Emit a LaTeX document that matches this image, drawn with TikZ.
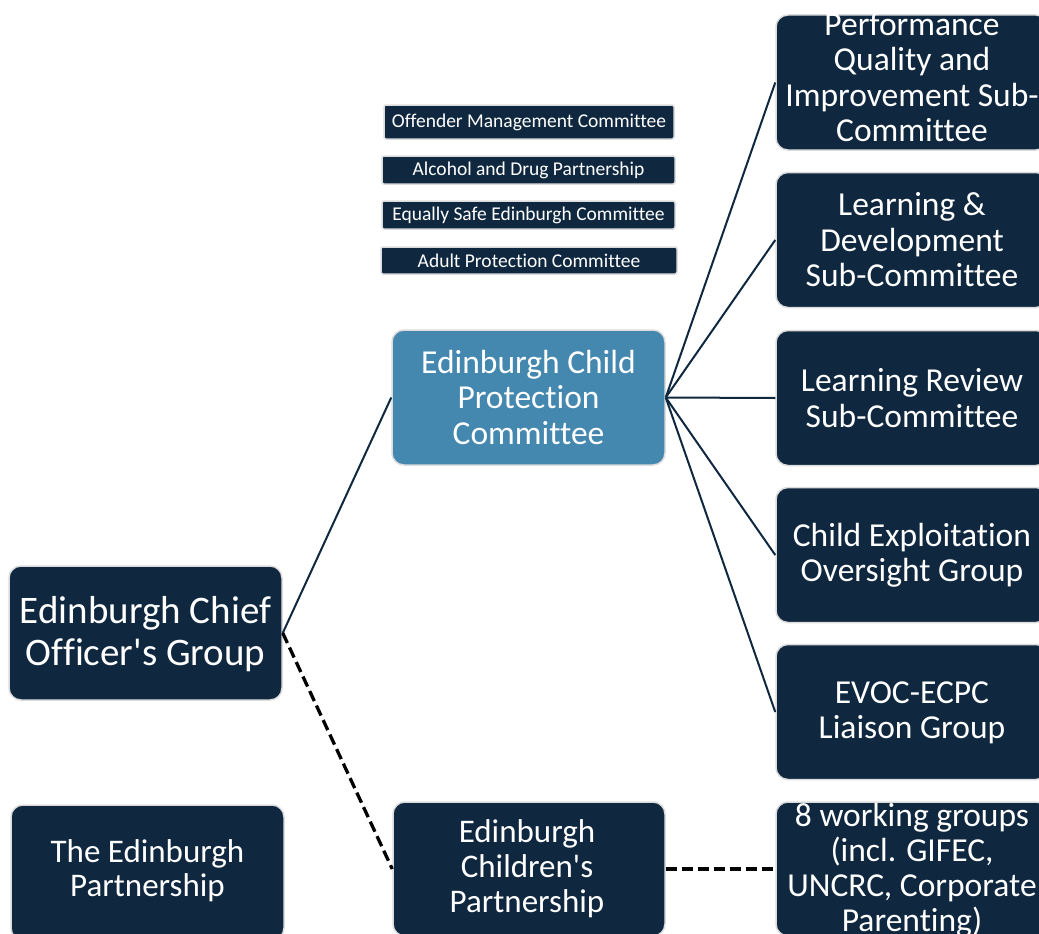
\documentclass[tikz,border=0pt]{standalone}
\usepackage{fontspec}
\setmainfont{Carlito}[Ligatures={TeXOff,CommonOff}]
\definecolor{navy}{HTML}{10283F}
\definecolor{cpc}{HTML}{4487AF}
\definecolor{halo}{HTML}{DCDCDC}
\begin{document}
\begin{tikzpicture}[x=1pt,y=-1pt,
  box/.style={draw=halo, line width=1.5pt, fill=navy, rounded corners=12pt, inner sep=0pt, minimum width=273pt, minimum height=135pt},
  small/.style={draw=halo, line width=1.5pt, fill=navy, rounded corners=2pt, inner sep=0pt, text=white, font=\fontsize{19.5}{22}\selectfont},
  txt/.style={text=white, align=center, inner sep=0pt},
  big/.style={font=\fontsize{39}{42}\selectfont},
  mid/.style={font=\fontsize{33.5}{35.5}\selectfont},
  link/.style={draw=navy, line width=2pt},
  dlink/.style={draw=black, line width=3.3pt, dash pattern=on 11pt off 5pt}]
\useasboundingbox (0,0) rectangle (1039,934);
\fill[white] (0,0) rectangle (1039,934);

% left column
\node[box, minimum height=134pt] (chief) at (145.5,633) {};
\node[txt, big] (chieft) at (145.5,634) {Edinburgh Chief\\Officer's Group};
\node[box] (tep) at (147.5,872.5) {};
\node[txt, font=\fontsize{33}{34}\selectfont] (tept) at (147.5,871) {The Edinburgh\\Partnership};

% middle column
\node[box, fill=cpc] (ecpc) at (528.5,397.5) {};
\node[txt, mid] (ecpct) at (528.5,397) {Edinburgh Child\\Protection\\Committee};
\node[box, minimum width=272pt, minimum height=134pt] (ecp) at (529,869) {};
\node[txt, font=\fontsize{33}{35}\selectfont] (ecpt) at (527,869) {Edinburgh\\Children's\\Partnership};

% small boxes
\node[small, minimum width=290pt, minimum height=34pt] (om) at (529,122) {Offender\ Management\ Committee};
\node[small, minimum width=293pt, minimum height=28pt] (ad) at (528.5,170) {Alcohol and Drug Partnership};
\node[small, minimum width=293pt, minimum height=28pt] (es) at (528.5,215) {Equally Safe Edinburgh Committee};
\node[small, minimum width=296pt, minimum height=27pt] (ap) at (529,260.5) {Adult Protection Committee};

% right column
\node[box, minimum width=272pt] (r1) at (912,82.5) {};
\node[txt, mid] (r1t) at (912,77) {Performance\\Quality and\\Improvement Sub-\\Committee};
\node[box, minimum width=272pt] (r2) at (912,240) {};
\node[txt, mid] (r2t) at (912,240) {Learning \&\\Development\\Sub-Committee};
\node[box, minimum width=272pt] (r3) at (912,398) {};
\node[txt, mid] (r3t) at (912,398) {Learning Review\\Sub-Committee};
\node[box, minimum width=272pt] (r4) at (912,555) {};
\node[txt, mid] (r4t) at (912,555) {Child Exploitation\\Oversight Group};
\node[box, minimum width=272pt] (r5) at (912,712) {};
\node[txt, mid] (r5t) at (912,713) {EVOC-ECPC\\Liaison\ Group};
\node[box, minimum width=272pt, minimum height=134pt] (r6) at (912,869) {};
\node[txt, font=\fontsize{33.5}{35}\selectfont] (r6t) at (912,870) {8 working groups\\(incl. GIFEC,\\UNCRC, Corporate\\Parenting)};

% connectors
\draw[link] (chief.east) -- (ecpc.west);
\draw[dlink] (chief.east) -- (ecp.west);
\foreach \r in {r1,r2,r3,r4,r5} \draw[link] (ecpc.east) -- (\r.west);
\draw[dlink] (ecp.east) -- (r6.west);
\end{tikzpicture}
\end{document}
